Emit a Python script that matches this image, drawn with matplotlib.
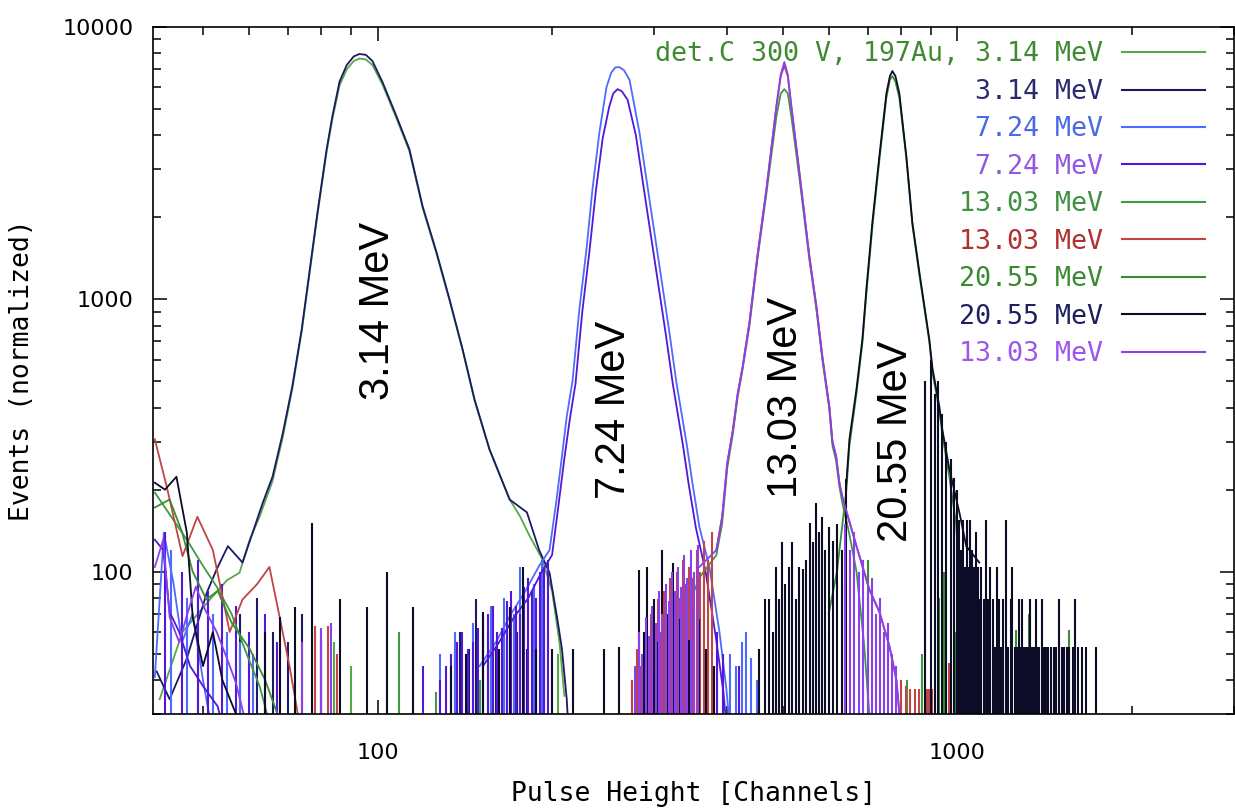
import numpy as np
import matplotlib
matplotlib.use("Agg")
import matplotlib.pyplot as plt
from matplotlib.lines import Line2D

# ---- values: channel, normalized events ----

# det.C 300 V, 197Au, 3.14 MeV (green)
g314_ch = [42.1, 46.1, 51.4, 55, 57.8, 60.2, 62.6, 65.9, 68.6, 71.3, 74.0, 76.3, 78.8, 81.7, 83.6,
           86.0, 88.5, 91.0, 93.1, 95.5, 98.0, 102, 107.8, 113.5, 119.6, 126.4, 133.1, 140.2, 147,
           156, 169, 176, 183, 192, 200, 206, 210]
g314_n = [34, 60, 79, 93, 99, 131, 159, 215, 310, 470, 760, 1230, 2050, 3480, 4600,
          6100, 7000, 7500, 7660, 7600, 7250, 6150, 4620, 3500, 2170, 1470, 990, 650, 425,
          281, 184, 160, 135, 112, 85, 55, 35]
g314_sp_ch = [78, 84, 90, 205]
g314_sp_n = [60, 55, 45, 50]

# 3.14 MeV (navy)
n314_ch = [41.6, 43.8, 46.9, 50.8, 52.8, 55.2, 58.5, 63.4, 65.9, 68.6, 71.3, 74.0, 76.3, 78.8, 81.7,
           83.6, 86.0, 88.5, 91.0, 93.1, 95.5, 98.0, 102, 107.8, 113.5, 119.6, 126.4, 133.1, 140.2,
           147, 156, 169, 181, 190, 198, 204, 208, 212, 215]
n314_n = [43, 34, 48, 84, 102, 124, 108, 179, 223, 320, 480, 776, 1257, 2089, 3557,
          4706, 6300, 7250, 7800, 7960, 7900, 7500, 6277, 4706, 3557, 2197, 1489, 1000, 655,
          429, 281, 184, 165, 120, 99, 68, 52, 34, 20]
n314_sp_ch = [58, 62, 66, 70, 74, 136, 139, 144, 148, 155, 160, 167, 174, 181, 194]
n314_sp_n = [70, 80, 60, 55, 70, 52, 60, 52, 79, 60, 52, 74, 60, 52, 60]

# 7.24 MeV (blue)
b724_tail_ch = [41.3, 42.8, 44.5, 46, 48, 50, 53]
b724_tail_n = [41, 139, 90, 55, 70, 40, 20]
b724_ch = [150, 160, 170, 180, 190, 198, 203.6, 208, 212, 216.9, 222.9, 229.3, 234.8, 241.4, 248.2,
           253, 257, 261, 266, 272, 282.9, 294.4, 306.4, 318.7, 327.7, 341.0, 349.2, 359, 373.6,
           388.8, 399.7, 410]
b724_n = [45, 55, 70, 85, 105, 120, 184, 265, 371, 500, 919, 1527, 2536, 4111, 6000,
          6800, 7100, 7128, 6950, 6400, 4111, 2331, 1322, 756, 495, 298, 212, 146, 104,
          60, 37, 20]
b724_sp_ch = [44, 47, 49, 52, 55, 58, 61, 128, 136, 140, 146, 152, 157, 165, 172, 176, 186, 192,
              405, 415, 425, 432, 440, 452]
b724_sp_n = [120, 80, 95, 70, 60, 55, 50, 50, 60, 45, 65, 60, 75, 80, 70, 104, 90, 110,
             50, 45, 55, 60, 48, 40]

# 7.24 MeV (violet)
v724_tail_ch = [41.3, 42.7, 43.8, 45.5, 47.5, 50, 53, 56]
v724_tail_n = [131, 120, 71, 60, 45, 38, 32, 20]
v724_ch = [152, 162, 172, 182, 192, 200, 205.5, 210, 214.5, 219.5, 225.5, 232, 238, 244.5, 251,
           255, 259.4, 264, 270, 279, 290, 302, 314, 323, 336, 344, 354, 368, 383, 395, 405]
v724_n = [45, 55, 68, 80, 100, 115, 180, 260, 360, 490, 900, 1500, 2500, 3900, 5100,
          5700, 5913, 5800, 5400, 4000, 2300, 1300, 750, 490, 295, 210, 145, 100, 58, 36, 20]
v724_sp_ch = [43, 46, 49, 51, 54, 57, 60, 64, 67, 120, 128, 131, 134, 137, 140, 143, 146, 149,
              152, 155, 158, 161, 164, 167, 170, 173, 176, 179, 182, 185, 188, 191, 194, 197,
              385, 395, 420]
v724_sp_n = [140, 100, 110, 85, 90, 75, 60, 70, 55, 45, 40, 45, 50, 55, 60, 52, 55, 62,
             68, 70, 75, 60, 62, 78, 85, 75, 70, 88, 95, 85, 80, 100, 104, 110,
             60, 50, 45]

# 13.03 MeV (green)
g1303_tail_ch = [41.3, 44, 47, 50, 52.8, 56, 59, 62.6, 66]
g1303_tail_n = [195, 160, 130, 105, 88, 70, 52, 38, 25]
g1303_ch = [300, 330, 359, 384, 393, 401, 410, 418, 426, 438, 452, 468.5, 487.5, 496, 503, 510,
            517.2, 534, 555.6, 571.3, 585, 601.4, 609, 618, 626, 633, 650, 670, 690, 705]
g1303_n = [40, 60, 95, 115, 150, 240, 320, 440, 550, 800, 1400, 2450, 4700, 5700, 5913, 5700,
           4700, 2800, 1400, 920, 600, 395, 290, 255, 205, 180, 140, 100, 55, 30]
g1303_sp_ch = [109, 126, 150, 335, 350, 820, 870]
g1303_sp_n = [60, 36, 40, 48, 70, 40, 50]

# 13.03 MeV (red)
r1303_tail_ch = [41.3, 43.3, 46.1, 48.9, 52.0, 55.6, 58.5, 62, 65.1, 67.8, 70.5, 72.5, 75]
r1303_tail_n = [306, 205, 114, 159, 120, 60, 79, 90, 104, 68, 45, 32, 20]
r1303_ch = [384, 393, 401, 410, 418, 426, 438, 452, 468.5, 487.5, 496, 503, 510, 517.2, 534,
            555.6, 571.3, 585, 601.4, 609, 618, 626, 633, 650, 670, 705, 734, 764, 785, 800]
r1303_n = [120, 159, 250, 330, 450, 560, 823, 1439, 2536, 5124, 6600, 7200, 6600, 5124, 2930,
           1439, 943, 617, 404, 300, 265, 212, 189, 155, 124, 86, 71, 53, 40, 25]
r1303_sp_ch = [78, 80, 82, 85, 275, 280, 284, 288, 292, 296, 300, 304, 308, 312, 316, 320, 324,
               328, 332, 336, 340, 345, 350, 355, 360, 366, 372, 378, 800, 815, 830, 845, 860,
               886, 895, 905, 968]
r1303_sp_n = [63, 60, 63, 50, 40, 52, 45, 60, 55, 70, 62, 79, 60, 85, 70, 95, 75,
              100, 80, 110, 90, 104, 95, 120, 100, 130, 110, 140, 40, 38, 37, 37, 37,
              37, 37, 37, 46]

# 20.55 MeV (green)
g2055_tail_ch = [41.3, 43.8, 46, 48, 50.7, 53, 56, 60.2, 64, 68]
g2055_tail_n = [172, 184, 140, 100, 79, 85, 65, 52, 40, 28]
g2055_ch = [600, 620, 643.6, 651.4, 669.8, 685.8, 696.8, 713.6, 733.7, 754.4, 765, 772.6, 782,
            794.3, 816.6, 836.3, 860, 894.6, 905.7, 931, 942, 968, 995, 1010]
g2055_n = [70, 100, 200, 290, 450, 690, 1050, 1850, 3250, 5500, 6400, 6600, 6300,
           5500, 3300, 1880, 1230, 700, 540, 390, 320, 225, 150, 90]
g2055_sp_ch = [600, 640, 700, 930, 950, 990, 1040, 1100, 1260, 1330, 1560]
g2055_sp_n = [60, 90, 110, 80, 100, 60, 70, 75, 61, 70, 61]

# 20.55 MeV (black / navy)
k2055_tail_ch = [41.3, 43, 45, 46.9, 48, 50, 52, 54, 57, 60]
k2055_tail_n = [212, 200, 223, 139, 68, 45, 60, 40, 30, 20]
k2055_ch = [643.6, 651.4, 669.8, 685.8, 696.8, 713.6, 733.7, 754.4, 765, 772.6, 782, 794.3, 816.6,
            836.3, 860, 894.6, 905.7, 931, 942, 968, 1008, 1036, 1091]
k2055_n = [212, 306, 467, 713, 1088, 1919, 3357, 5700, 6600, 6889, 6600, 5700, 3357,
           1919, 1257, 713, 560, 404, 333, 240, 165, 124, 108]
k2055_sp_ch = [64, 68, 72, 77, 80, 86, 96, 104, 115, 134, 142, 152, 162, 169, 178, 188, 200, 217,
               246, 261, 283, 288, 292, 300, 305, 310, 316, 323, 332, 338, 345, 352, 359, 368,
               380, 455, 466, 473, 480, 487, 493, 499, 505, 512, 519, 526, 533, 542, 548, 556,
               563, 571, 578, 585, 592, 601, 610, 620, 633, 643, 880, 900, 915, 925, 940, 955,
               975, 985, 1000, 1008, 1015, 1021, 1030, 1038, 1045, 1052, 1060, 1068, 1076, 1084,
               1092, 1100, 1110, 1122, 1130, 1140, 1150, 1160, 1170, 1180, 1190, 1200, 1215,
               1225, 1235, 1244, 1255, 1265, 1275, 1285, 1294, 1305, 1315, 1325, 1335, 1345,
               1355, 1365, 1375, 1385, 1400, 1410, 1420, 1435, 1450, 1465, 1480, 1500, 1515,
               1530, 1545, 1560, 1580, 1597, 1615, 1640, 1670, 1735]
k2055_sp_n = [60, 68, 74, 151, 56, 79, 74, 100, 74, 45, 50, 71, 52, 74, 104, 52, 52, 52,
              52, 53, 101, 60, 104, 79, 55, 120, 70, 108, 67, 90, 56, 75, 67, 52,
              45, 52, 79, 79, 60, 104, 79, 128, 90, 104, 128, 79, 104, 102, 110, 151,
              128, 179, 140, 159, 120, 146, 130, 150, 120, 218, 500, 600, 450, 500, 380, 300,
              260, 220, 200, 155, 120, 155, 104, 155, 104, 155, 120, 104, 140, 104,
              79, 104, 79, 155, 79, 104, 79, 53, 104, 79, 53, 79, 155,
              53, 79, 104, 53, 53, 79, 53, 79, 53, 53, 53, 79, 53,
              53, 79, 53, 53, 79, 53, 53, 53, 53, 53, 53, 79, 53,
              53, 53, 53, 53, 79, 53, 53, 53, 53]

# 13.03 MeV (purple)
p1303_tail_ch = [41.3, 42.7, 43.8, 45.5, 47, 48.6, 50.5, 52.8, 55, 57, 60]
p1303_tail_n = [104, 131, 68, 55, 70, 88, 72, 60, 48, 39, 25]
p1303_ch = [359, 384, 393, 401, 410, 418, 426, 438, 452, 468.5, 487.5, 496, 503, 510, 517.2, 534,
            555.6, 571.3, 585, 601.4, 609, 618, 626, 633, 650, 670, 705, 734, 764, 785, 794, 800]
p1303_n = [104, 120, 159, 250, 330, 450, 560, 823, 1439, 2536, 5124, 6700, 7434, 6700, 5124, 2930,
           1439, 943, 617, 404, 300, 265, 212, 189, 155, 124, 86, 71, 53, 40, 31, 20]
p1303_sp_ch = [74, 80, 83, 278, 282, 286, 290, 294, 298, 302, 306, 310, 314, 318, 322, 326, 330,
               334, 338, 342, 347, 352, 357, 640, 652, 664, 676, 688, 700, 712, 724, 736, 748,
               760, 772, 784]
p1303_sp_n = [55, 62, 65, 45, 60, 50, 68, 58, 75, 65, 85, 70, 90, 78, 100, 85, 104,
              88, 115, 95, 120, 100, 125, 150, 120, 140, 100, 110, 85, 95, 70, 80, 60,
              65, 50, 45]

labels = ["det.C 300 V, 197Au, 3.14 MeV", "3.14 MeV", "7.24 MeV", "7.24 MeV", "13.03 MeV",
          "13.03 MeV", "20.55 MeV", "20.55 MeV", "13.03 MeV"]
line_colors = ["#58a848", "#1a1a66", "#4d6bff", "#5317d9", "#3f9a45",
               "#c04545", "#3c8c32", "#0c0c26", "#8a3ff0"]
text_colors = ["#3f8a30", "#2a2a70", "#4a6ae8", "#9457e0", "#3f9040",
               "#b03030", "#3a8a30", "#1c2060", "#9b55ee"]

curves = [
    [(g314_ch, g314_n)],
    [(n314_ch, n314_n)],
    [(b724_tail_ch, b724_tail_n), (b724_ch, b724_n)],
    [(v724_tail_ch, v724_tail_n), (v724_ch, v724_n)],
    [(g1303_tail_ch, g1303_tail_n), (g1303_ch, g1303_n)],
    [(r1303_tail_ch, r1303_tail_n), (r1303_ch, r1303_n)],
    [(g2055_tail_ch, g2055_tail_n), (g2055_ch, g2055_n)],
    [(k2055_tail_ch, k2055_tail_n), (k2055_ch, k2055_n)],
    [(p1303_tail_ch, p1303_tail_n), (p1303_ch, p1303_n)],
]
spikes = [
    (g314_sp_ch, g314_sp_n), (n314_sp_ch, n314_sp_n), (b724_sp_ch, b724_sp_n),
    (v724_sp_ch, v724_sp_n), (g1303_sp_ch, g1303_sp_n), (r1303_sp_ch, r1303_sp_n),
    (g2055_sp_ch, g2055_sp_n), (k2055_sp_ch, k2055_sp_n), (p1303_sp_ch, p1303_sp_n),
]

# peak annotations: text, channel, events
peak_labels = ["3.14 MeV", "7.24 MeV", "13.03 MeV", "20.55 MeV"]
peak_ch = [100, 256, 507, 785]
peak_n = [903, 391, 436, 300]

fig = plt.figure(figsize=(12.35, 8.09), dpi=100)
ax = fig.add_axes([153 / 1235, 1 - 714 / 809, 1081 / 1235, 687 / 809])

for i in range(len(labels)):
    for ch, n in curves[i]:
        ax.plot(ch, n, color=line_colors[i], lw=1.3)
    sp_ch, sp_n = spikes[i]
    ax.vlines(sp_ch, 1, sp_n, color=line_colors[i], lw=1.5)

for txt, c, n in zip(peak_labels, peak_ch, peak_n):
    ax.text(c, n, txt, rotation=90, ha='center', va='center',
            fontsize=30, family='Liberation Sans', color='black')

ax.set_xscale('log')
ax.set_yscale('log')
ax.set_xlim(41, 3000)
ax.set_ylim(30, 10000)

ax.set_xticks([100, 1000])
ax.set_xticklabels(['100', '1000'])
ax.set_yticks([100, 1000, 10000])
ax.set_yticklabels(['100', '1000', '10000'])
ax.tick_params(which='both', direction='in', top=True, right=True, width=1.1)
ax.tick_params(which='major', length=10)
ax.tick_params(which='minor', length=6)
ax.tick_params(axis='x', which='major', pad=21, labelsize=16)
ax.tick_params(axis='y', which='major', pad=14, labelsize=16)
for s in ax.spines.values():
    s.set_linewidth(1.2)

ax.set_xlabel('Pulse Height [Channels]', family='DejaVu Sans Mono', fontsize=19)
ax.set_ylabel('Events (normalized)', family='DejaVu Sans Mono', fontsize=19)
ax.xaxis.set_label_coords(0.5, -0.097)
ax.yaxis.set_label_coords(-0.109, 0.5)

# gnuplot-style key: text right-aligned against the sample line
handles = [Line2D([], [], color=c, lw=1.5) for c in line_colors]
leg = ax.legend(handles, labels, loc='upper right',
                bbox_to_anchor=(0.973, 0.979), borderaxespad=0, borderpad=0,
                frameon=False, markerfirst=False, handlelength=3.1,
                handletextpad=0.72, labelspacing=0.43,
                prop={'family': 'DejaVu Sans Mono', 'size': 19.2})
for t, c in zip(leg.get_texts(), text_colors):
    t.set_color(c)

fig.savefig('out.png', dpi=100)
